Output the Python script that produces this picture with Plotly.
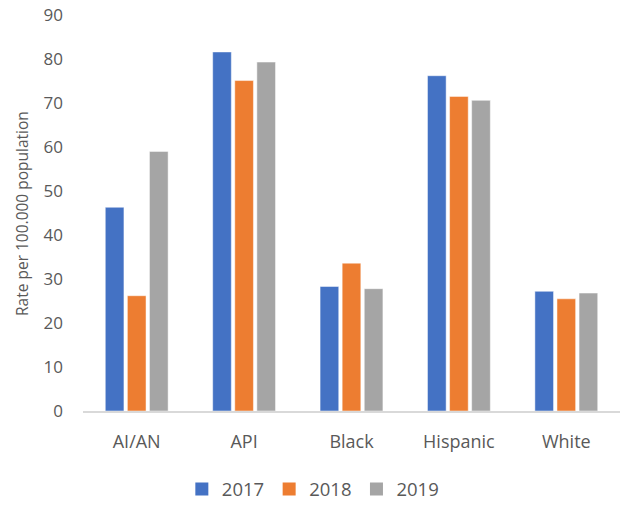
import plotly.graph_objects as go

# Rates per 100,000 population by group and year
groups = ["AI/AN", "API", "Black", "Hispanic", "White"]
years = ["2017", "2018", "2019"]
rate_2017 = [46.3, 81.6, 28.3, 76.2, 27.2]
rate_2018 = [26.2, 75.1, 33.6, 71.5, 25.5]
rate_2019 = [59.0, 79.3, 27.8, 70.6, 26.8]
y_ticks = [0, 10, 20, 30, 40, 50, 60, 70, 80, 90]

colors = ["#4472C4", "#ED7D31", "#A5A5A5"]
series = [rate_2017, rate_2018, rate_2019]

FONT = "Open Sans"
TEXT = "#595959"

fig = go.Figure()
for name, vals, col in zip(years, series, colors):
    fig.add_trace(go.Bar(
        x=groups, y=vals, name=name, legendgroup=name, showlegend=False,
        marker=dict(color=col, line=dict(color="rgba(255,255,255,0.6)", width=0.8)),
    ))

# square legend keys
for name, col in zip(years, colors):
    fig.add_trace(go.Scatter(
        x=[None], y=[None], mode="markers", name=name, legendgroup=name,
        marker=dict(symbol="square", size=13, color=col),
    ))

fig.update_layout(
    width=621, height=510,
    margin=dict(l=83, r=1, t=15, b=97),
    paper_bgcolor="white", plot_bgcolor="white",
    barmode="group", bargap=0.383, bargroupgap=0.155,
    font=dict(family=FONT, color=TEXT),
    showlegend=True,
    legend=dict(orientation="h", x=0.428, xanchor="center", y=-0.198, yanchor="middle",
                font=dict(size=18.5, color=TEXT), itemwidth=30, traceorder="normal"),
    xaxis=dict(showgrid=False, showline=True, linecolor="#D9D9D9", linewidth=2,
               ticks="", tickfont=dict(size=18, color=TEXT), ticklabelstandoff=13,
               zeroline=False),
    yaxis=dict(range=[0, 90], tickvals=y_ticks, showgrid=False, showline=False,
               zeroline=False, ticks="", tickfont=dict(size=17, color=TEXT),
               ticklabelstandoff=19),
)

fig.add_annotation(
    text="Rate per 100.000 population", textangle=-90,
    xref="paper", yref="paper", x=(22 - 83) / 537, y=(413 - 215) / 398,
    xanchor="center", yanchor="middle", showarrow=False,
    font=dict(size=15.5, color=TEXT, family=FONT),
)

fig.write_html("out.html")
